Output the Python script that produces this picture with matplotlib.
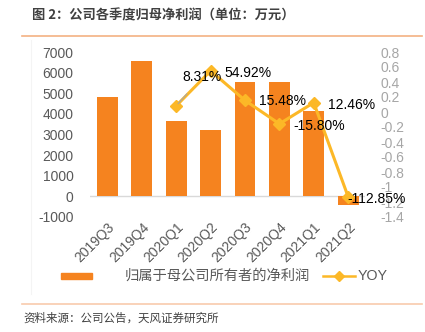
import matplotlib
matplotlib.use('Agg')
import matplotlib.pyplot as plt
from matplotlib.lines import Line2D
from matplotlib.patches import Rectangle

plt.rcParams['font.family'] = ['Liberation Sans', 'Noto Sans CJK SC', 'DejaVu Sans']
CJK = ['Noto Sans CJK SC', 'DejaVu Sans']

# data
quarters = ['2019Q3', '2019Q4', '2020Q1', '2020Q2', '2020Q3', '2020Q4', '2021Q1', '2021Q2']
profit = [4800, 6560, 3660, 3210, 5530, 5530, 4120, -440]
yoy_q = ['2020Q1', '2020Q2', '2020Q3', '2020Q4', '2021Q1', '2021Q2']
yoy = [0.0831, 0.5492, 0.1548, -0.1580, 0.1246, -1.1285]
left_ticks = [-1000, 0, 1000, 2000, 3000, 4000, 5000, 6000, 7000]
right_ticks = [-1.4, -1.2, -1, -0.8, -0.6, -0.4, -0.2, 0, 0.2, 0.4, 0.6, 0.8]

BAR = '#F5831F'
LINE = '#FCB827'
W, H = 425, 332

fig = plt.figure(figsize=(W / 100, H / 100), dpi=100)
ax = fig.add_axes([90.3 / W, 1 - 217 / H, 275 / W, 165 / H])
x = list(range(len(quarters)))
ax.bar(x, profit, width=0.61, color=BAR, zorder=2)
ax.set_xlim(-0.5, len(quarters) - 0.5)
ax.set_ylim(-1000, 7000)
ax.set_yticks(left_ticks)
ax.set_yticklabels([str(t) for t in left_ticks])
ax.axhline(0, color='#D9D9D9', lw=1, zorder=1)
for s in ax.spines.values():
    s.set_visible(False)
ax.tick_params(axis='y', length=0, pad=12, labelsize=10, labelcolor='#595959')
ax.tick_params(axis='x', length=0, pad=2, labelsize=10, labelcolor='#595959')
ax.set_xticks(x)
ax.set_xticklabels(quarters, rotation=45, ha='right', va='top', rotation_mode='anchor')

ax2 = ax.twinx()
xi = [quarters.index(q) for q in yoy_q]
ax2.plot(xi, yoy, color=LINE, lw=2.2, marker='D', ms=6, zorder=3)
ax2.set_ylim(-1.4, 0.8)
ax2.set_yticks(right_ticks)
ax2.set_yticklabels(['%g' % t for t in right_ticks])
for s in ax2.spines.values():
    s.set_visible(False)
ax2.tick_params(axis='y', length=0, pad=11, labelsize=10, labelcolor='#A6A6A6')

# data labels
offsets = [(26, 29), (14, -2), (14, -1), (14, -2), (14, -2), (-1, -2)]
for xv, yv, (dx, dy) in zip(xi, yoy, offsets):
    lbl = '%.2f%%' % (yv * 100)
    if dx == 26:
        ax2.annotate(lbl, (xv, yv), xytext=(dx, dy), textcoords='offset pixels',
                     ha='center', va='center', fontsize=10, color='black',
                     arrowprops=dict(arrowstyle='-', color='#A6A6A6', lw=0.8,
                                     shrinkA=7, shrinkB=2))
    else:
        ax2.annotate(lbl, (xv, yv), xytext=(dx, dy), textcoords='offset pixels',
                     ha='left', va='center', fontsize=10, color='black')

# title and rules
fig.text(32 / W, 1 - 15 / H, '图 2：公司各季度归母净利润（单位：万元）', family=CJK,
         fontsize=9.5, fontweight='bold', color='#404040', va='center', ha='left')
fig.add_artist(Line2D([22 / W, 422 / W], [1 - 36 / H] * 2, color='#F4B183', lw=1.2))
fig.add_artist(Line2D([22 / W, 422 / W], [1 - 304 / H] * 2, color='#F8CBAD', lw=1.2))
fig.add_artist(Line2D([31 / W, 31 / W], [1 - 294 / H, 1 - 40 / H], color='#F4F4F4', lw=0.8))
fig.text(23 / W, 1 - 318 / H, '资料来源：公司公告，天风证券研究所', family=CJK,
         fontsize=8.3, color='#404040', va='center', ha='left')

# legend drawn by hand
fig.add_artist(Rectangle((61 / W, 1 - 279 / H), 31 / W, 6 / H, color=BAR))
fig.text(125 / W, 1 - 276 / H, '归属于母公司所有者的净利润', family=CJK,
         fontsize=10.3, color='#595959', va='center', ha='left')
fig.add_artist(Line2D([323 / W, 355 / W], [1 - 276 / H] * 2, color=LINE, lw=1.8))
fig.add_artist(Line2D([339 / W], [1 - 276 / H], marker='D', ms=5, color=LINE))
fig.text(358 / W, 1 - 276 / H, 'YOY', fontsize=10.3, color='#595959', va='center', ha='left')

fig.savefig('out.png', dpi=100)
